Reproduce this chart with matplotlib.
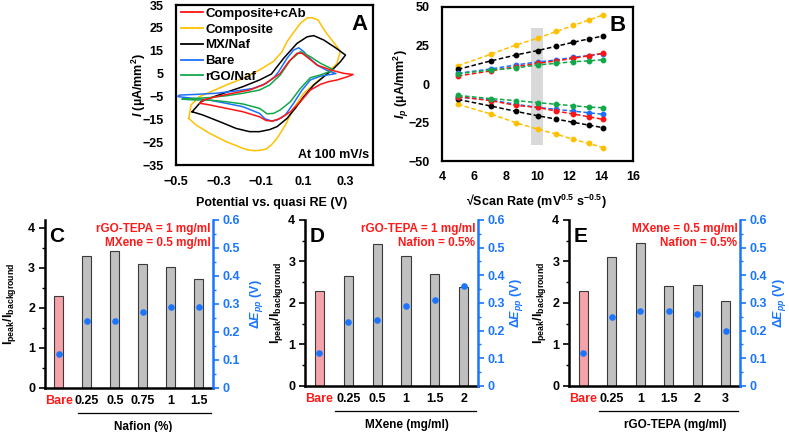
import matplotlib
matplotlib.use('Agg')
import matplotlib.pyplot as plt
from matplotlib.lines import Line2D
from matplotlib.ticker import MultipleLocator

plt.rcParams['font.family'] = ['Liberation Sans', 'DejaVu Sans']
plt.rcParams['font.weight'] = 'bold'
plt.rcParams['axes.labelweight'] = 'bold'
plt.rcParams['mathtext.fontset'] = 'custom'
plt.rcParams['mathtext.rm'] = 'Liberation Sans:bold'
plt.rcParams['mathtext.it'] = 'Liberation Sans:italic:bold'
plt.rcParams['mathtext.bf'] = 'Liberation Sans:bold'
plt.rcParams['font.size'] = 8.5

# ---- panel A: cyclic voltammograms at 100 mV/s (potential V, current uA/mm2)
cv_labels = ['Composite+cAb', 'Composite', 'MX/Naf', 'Bare', 'rGO/Naf']
cv_colors = ['#ff1414', '#ffc000', '#000000', '#1f6fff', '#11a84a']

E_cab = [-0.386, -0.374, -0.311, -0.232, -0.153, -0.09, -0.042, -0.008, 0.032, 0.071, 0.095, 0.126,
         0.166, 0.229, 0.292, 0.336, 0.308, 0.26, 0.221, 0.182, 0.134, 0.087, 0.04, -0.008, -0.045,
         -0.075, -0.106, -0.184, -0.263, -0.342, -0.386]
I_cab = [-8.0, -6.6, -5.1, -3.6, -2.2, 0.0, 2.9, 5.1, 10.2, 13.9, 13.9, 11.7,
         8.7, 6.6, 5.1, 4.6, 3.6, 2.2, 1.5, 0.3, -2.2, -7.3, -11.7, -14.6, -15.8,
         -15.5, -13.9, -11.7, -10.2, -8.7, -8.0]

E_comp = [-0.44, -0.429, -0.39, -0.342, -0.263, -0.184, -0.106, -0.042, 0.0, 0.024, 0.055, 0.087,
          0.119, 0.14, 0.17, 0.205, 0.237, 0.27, 0.276, 0.26, 0.221, 0.166, 0.103, 0.055, 0.016,
          -0.023, -0.05, -0.074, -0.105, -0.13, -0.16, -0.184, -0.263, -0.342, -0.405, -0.44]
I_comp = [-14.6, -8.7, -5.1, -3.2, 0.0, 2.9, 6.6, 10.2, 14.5, 19.0, 23.0, 27.0,
          29.3, 29.5, 28.5, 23.3, 19.5, 15.5, 15.0, 9.5, 5.8, 1.5, -3.6, -10.2, -17.5,
          -23.3, -26.2, -28.0, -28.6, -28.7, -28.4, -27.7, -24.8, -21.1, -17.5, -14.6]

E_mx = [-0.424, -0.382, -0.342, -0.263, -0.184, -0.106, -0.05, 0.008, 0.071, 0.119, 0.15, 0.197,
        0.253, 0.30, 0.276, 0.245, 0.197, 0.15, 0.103, 0.063, 0.024, -0.023, -0.058, -0.106,
        -0.153, -0.216, -0.295, -0.374, -0.424]
I_mx = [-11.7, -7.3, -5.8, -3.2, -0.7, 2.2, 4.8, 11.7, 18.2, 21.1, 21.6, 19.7,
        16.3, 13.1, 10.2, 7.3, 3.6, 0.0, -5.1, -10.2, -14.6, -18.2, -19.5, -20.4,
        -20.4, -19.0, -16.0, -13.1, -11.7]

E_bare = [-0.489, -0.484, -0.405, -0.311, -0.216, -0.137, -0.074, -0.035, -0.016, 0.024, 0.055,
          0.079, 0.103, 0.131, 0.17, 0.21, 0.255, 0.182, 0.134, 0.095, 0.055, 0.016, -0.023,
          -0.05, -0.08, -0.106, -0.184, -0.263, -0.342, -0.421, -0.489]
I_bare = [-4.8, -4.4, -4.1, -3.6, -2.6, -1.5, 0.7, 3.6, 5.8, 11.7, 15.3,
          16.3, 14.6, 11.7, 8.5, 6.5, 5.0, 3.9, 2.2, -2.2, -8.0, -13.1, -15.3,
          -15.7, -14.8, -12.4, -9.5, -8.0, -6.6, -5.8, -5.1]

E_rgo = [-0.47, -0.42, -0.342, -0.263, -0.184, -0.106, -0.058, -0.008, 0.04, 0.087, 0.134, 0.182,
         0.245, 0.182, 0.134, 0.087, 0.04, -0.008, -0.039, -0.07, -0.106, -0.184, -0.263, -0.342,
         -0.42, -0.47]
I_rgo = [-6.2, -5.9, -5.5, -4.7, -3.6, -2.2, 0.0, 4.4, 10.9, 14.6, 12.4, 9.5,
         6.6, 4.4, 3.2, -1.5, -7.3, -10.9, -12.4, -12.6, -10.2, -8.3, -7.3, -6.6,
         -6.5, -6.2]

# ---- panel B: peak currents vs sqrt(scan rate)
sqrt_rate = [5.0, 7.07, 8.66, 10.0, 11.18, 12.25, 13.23, 14.14]
ipa_comp = [11.9, 19.3, 25.4, 29.7, 34.1, 38.0, 41.6, 44.9]
ipa_mx = [9.5, 15.0, 18.9, 21.7, 24.5, 27.1, 29.3, 31.2]
ipa_bare = [6.9, 9.8, 12.4, 14.3, 15.6, 17.4, 18.4, 19.7]
ipa_cab = [5.2, 8.5, 11.3, 13.4, 15.0, 16.7, 18.4, 20.0]
ipa_rgo = [6.7, 9.1, 10.4, 12.4, 13.4, 14.5, 15.0, 15.8]
ipc_rgo = [-7.4, -9.5, -10.8, -12.1, -13.2, -14.1, -15.0, -15.4]
ipc_bare = [-8.5, -10.4, -13.2, -15.2, -16.5, -17.6, -18.7, -19.7]
ipc_cab = [-8.2, -10.8, -13.9, -15.2, -17.6, -19.5, -21.3, -23.0]
ipc_mx = [-10.0, -14.3, -17.8, -20.6, -22.8, -24.9, -26.7, -28.4]
ipc_comp = [-13.2, -19.5, -25.2, -29.3, -32.5, -36.0, -38.6, -41.4]
highlight_x = [9.62, 10.32]
highlight_y = [-39.6, 36.3]

# ---- panels C-E: signal ratio (bars) and peak separation (dots)
nafion_cats = ['Bare', '0.25', '0.5', '0.75', '1', '1.5']
nafion_ratio = [2.30, 3.31, 3.43, 3.10, 3.02, 2.72]
nafion_dEpp = [0.12, 0.24, 0.24, 0.27, 0.29, 0.29]

mxene_cats = ['Bare', '0.25', '0.5', '1', '1.5', '2']
mxene_ratio = [2.28, 2.65, 3.42, 3.13, 2.70, 2.38]
mxene_dEpp = [0.12, 0.23, 0.24, 0.29, 0.31, 0.36]

rgo_cats = ['Bare', '0.25', '1', '1.5', '2', '3']
rgo_ratio = [2.29, 3.11, 3.44, 2.41, 2.43, 2.04]
rgo_dEpp = [0.12, 0.25, 0.27, 0.27, 0.26, 0.20]

BLUE = '#1a75ff'
RED = '#ff1a1a'

fig = plt.figure(figsize=(7.89, 4.32), dpi=100)


def box(ax):
    for s in ax.spines.values():
        s.set_linewidth(1.6)
    ax.tick_params(length=0, labelsize=9)


# panel A
axA = fig.add_axes([0.2231, 0.618, 0.2497, 0.3704])
cv_data = [(E_cab, I_cab), (E_comp, I_comp), (E_mx, I_mx), (E_bare, I_bare), (E_rgo, I_rgo)]
for k in [1, 2, 3, 4, 0]:
    E, I = cv_data[k]
    axA.plot(E, I, color=cv_colors[k], lw=1.1, zorder=3 if k == 0 else 2)
handles = [Line2D([], [], color=c, lw=1.3) for c in cv_colors]
axA.legend(handles, cv_labels, loc='upper left', bbox_to_anchor=(-0.01, 1.025), frameon=False,
           handlelength=1.7, handletextpad=0.15, labelspacing=0.27, borderaxespad=0.1, fontsize=9.5)
axA.set_xlim(-0.5, 0.43)
axA.set_ylim(-35, 35)
axA.set_xticks([-0.5, -0.3, -0.1, 0.1, 0.3])
axA.set_yticks(range(-35, 36, 10))
box(axA)
axA.tick_params(axis='x', pad=8)
axA.tick_params(axis='y', pad=9)
axA.set_xlabel('Potential vs. quasi RE (V)', fontsize=9)
axA.xaxis.set_label_coords(0.487, -0.2)
axA.set_ylabel(r'$I$ (µA/mm$^2$)', fontsize=9, va='center')
axA.yaxis.set_label_coords(-0.19, 0.5)
axA.text(0.93, 0.88, 'A', transform=axA.transAxes, fontsize=16, ha='center', va='center')
axA.text(0.98, 0.06, 'At 100 mV/s', transform=axA.transAxes, fontsize=9, ha='right', va='center')

# panel B
axB = fig.add_axes([0.5602, 0.6273, 0.2421, 0.3565])
axB.fill_between(highlight_x, highlight_y[0], highlight_y[1], color='#d9d9d9', lw=0, zorder=1)
b_series = [(ipa_comp, ipc_comp, '#ffc000'), (ipa_mx, ipc_mx, '#000000'),
            (ipa_bare, ipc_bare, '#1f6fff'), (ipa_cab, ipc_cab, '#ff1414'),
            (ipa_rgo, ipc_rgo, '#11a84a')]
for ipa, ipc, c in b_series:
    for y in (ipa, ipc):
        axB.plot(sqrt_rate, y, color=c, ls=(0, (3, 1.6)), lw=1.1, marker='o', ms=3.2, zorder=2)
axB.set_xlim(4, 16)
axB.set_ylim(-50, 50)
axB.set_xticks(range(4, 17, 2))
axB.set_yticks([-50, -25, 0, 25, 50])
box(axB)
axB.tick_params(axis='x', pad=7)
axB.tick_params(axis='y', pad=9)
axB.set_xlabel('√Scan Rate (mV$^{0.5}$ s$^{-0.5}$)', fontsize=9)
axB.xaxis.set_label_coords(0.496, -0.208)
axB.set_ylabel(r'$I_p$ (µA/mm$^2$)', fontsize=9, va='center')
axB.yaxis.set_label_coords(-0.21, 0.5)
axB.text(0.92, 0.88, 'B', transform=axB.transAxes, fontsize=16, ha='center', va='center')


def bar_panel(rect, cats, ratio, dEpp, letter, notes, xtitle, ymax, ylab_x, rlab_x, line_x, title_x):
    ax = fig.add_axes(rect)
    xs = list(range(len(cats)))
    colors = ['#f4a3aa'] + ['#c0c0c0'] * (len(cats) - 1)
    ax.bar(xs, ratio, width=0.32, color=colors, edgecolor='#3a3a3a', lw=0.8, zorder=2)
    ax.set_xlim(-0.5, len(cats) - 0.5)
    ax.set_ylim(0, ymax)
    ax.yaxis.set_major_locator(MultipleLocator(1))
    ax.yaxis.set_minor_locator(MultipleLocator(0.5))
    ax.set_xticks(xs)
    ax.set_xticklabels(cats, fontsize=9)
    ax.get_xticklabels()[0].set_color(RED)
    ax.tick_params(axis='x', length=0, pad=5)
    ax.tick_params(axis='y', which='major', length=4, width=1.2, labelsize=9, pad=3)
    ax.tick_params(axis='y', which='minor', length=2.5, width=1.0)
    ax.spines['top'].set_visible(False)
    ax.spines['right'].set_visible(False)
    ax.spines['left'].set_linewidth(1.8)
    ax.spines['bottom'].set_linewidth(1.8)
    ax.set_ylabel(r'I$_{\mathrm{peak}}$/I$_{\mathrm{background}}$', fontsize=9, va='center')
    ax.yaxis.set_label_coords(ylab_x, 0.5)

    ax2 = ax.twinx()
    ax2.scatter(xs, dEpp, s=14, color=BLUE, zorder=3)
    ax2.set_ylim(0, 0.6)
    ax2.yaxis.set_minor_locator(MultipleLocator(0.05))
    ax2.set_yticks([0, 0.1, 0.2, 0.3, 0.4, 0.5, 0.6])
    ax2.set_yticklabels(['0', '0.1', '0.2', '0.3', '0.4', '0.5', '0.6'])
    for s in ['top', 'left', 'bottom']:
        ax2.spines[s].set_visible(False)
    ax2.spines['right'].set_color(BLUE)
    ax2.spines['right'].set_linewidth(1.8)
    ax2.tick_params(axis='y', which='major', colors=BLUE, length=4, width=1.2, labelsize=9, pad=3)
    ax2.tick_params(axis='y', which='minor', colors=BLUE, length=2.5, width=1.0)
    ax2.set_ylabel(r'Δ$E_{pp}$ (V)', color=BLUE, fontsize=9, va='center')
    ax2.yaxis.set_label_coords(rlab_x, 0.5)

    ax.text(0.07, 0.9, letter, transform=ax.transAxes, fontsize=15, ha='center', va='center')
    ax.text(0.985, 0.945, notes[0], transform=ax.transAxes, color=RED, fontsize=8.5, ha='right', va='center')
    ax.text(0.985, 0.86, notes[1], transform=ax.transAxes, color=RED, fontsize=8.5, ha='right', va='center')
    ax.add_line(Line2D([line_x, 0.99], [-0.15, -0.15], transform=ax.transAxes, color='k',
                       lw=0.9, clip_on=False))
    ax.text(title_x, -0.232, xtitle, transform=ax.transAxes, fontsize=8.5, ha='center', va='center')
    return ax


bar_panel([0.057, 0.1019, 0.2129, 0.3889], nafion_cats, nafion_ratio, nafion_dEpp, 'C',
          ['rGO-TEPA = 1 mg/ml', 'MXene = 0.5 mg/ml'], 'Nafion (%)', 4.2, -0.21, 1.26, 0.196, 0.583)
bar_panel([0.3866, 0.1065, 0.2193, 0.3843], mxene_cats, mxene_ratio, mxene_dEpp, 'D',
          ['rGO-TEPA = 1 mg/ml', 'Nafion = 0.5%'], 'MXene (mg/ml)', 4.0, -0.165, 1.225, 0.173, 0.588)
bar_panel([0.7212, 0.1065, 0.2167, 0.3843], rgo_cats, rgo_ratio, rgo_dEpp, 'E',
          ['MXene = 0.5 mg/ml', 'Nafion = 0.5%'], 'rGO-TEPA (mg/ml)', 4.0, -0.17, 1.23, 0.175, 0.62)

fig.savefig('out.png', dpi=100)
